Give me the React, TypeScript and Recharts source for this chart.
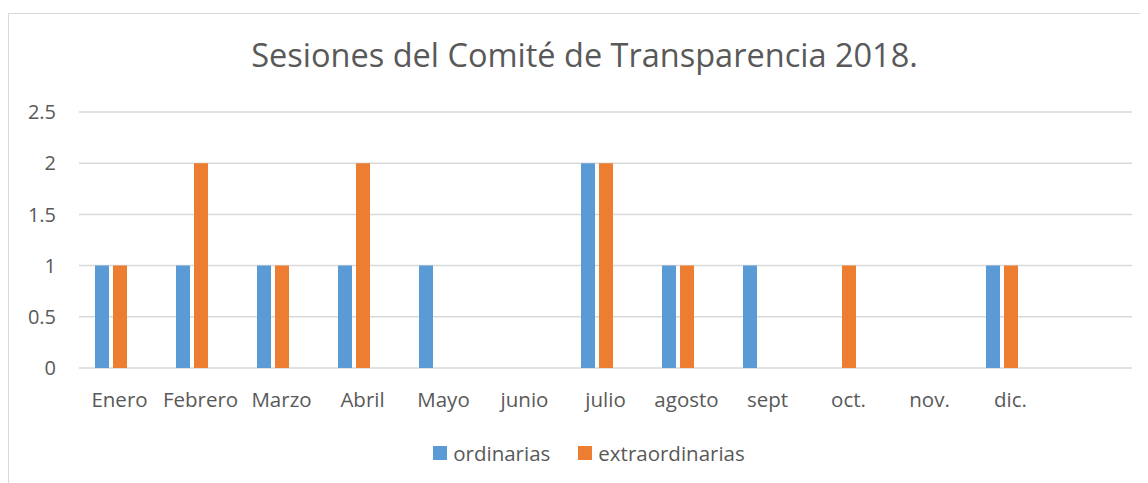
import { BarChart, Bar, XAxis, YAxis, CartesianGrid, Legend } from "recharts";

const months = ["Enero", "Febrero", "Marzo", "Abril", "Mayo", "junio", "julio", "agosto", "sept", "oct.", "nov.", "dic."];
const ordinarias = [1, 1, 1, 1, 1, 0, 2, 1, 1, 0, 0, 1];
const extraordinarias = [1, 2, 1, 2, 0, 0, 2, 1, 0, 1, 0, 1];
const seriesNames = ["ordinarias", "extraordinarias"];
const yTicks = [0, 0.5, 1, 1.5, 2, 2.5];

const data = months.map((m, i) => ({
  name: m,
  ordinarias: ordinarias[i],
  extraordinarias: extraordinarias[i],
}));

const FONT = "'Open Sans', sans-serif";
const TEXT = "#595959";

function LegendBox({ payload }: any) {
  const items = [...(payload || [])].sort(
    (a: any, b: any) => seriesNames.indexOf(a.value) - seriesNames.indexOf(b.value)
  );
  return (
    <div style={{ display: "flex", justifyContent: "center", gap: 28, fontFamily: FONT, fontSize: 20.5, color: TEXT }}>
      {items.map((p: any) => (
        <span key={p.value} style={{ display: "flex", alignItems: "center" }}>
          <span style={{ width: 14, height: 14, background: p.color, marginRight: 6, display: "inline-block" }} />
          {p.value}
        </span>
      ))}
    </div>
  );
}

export default function App() {
  return (
    <div style={{ paddingTop: 5 }}>
      <div style={{ position: "relative", borderLeft: "1px solid #D9D9D9", borderTop: "1px solid #D9D9D9", width: 1140, height: 470 }}>
        <div
          style={{
            position: "absolute",
            top: 20,
            left: 0,
            width: 1151,
            textAlign: "center",
            fontFamily: FONT,
            fontSize: 32.5,
            color: TEXT,
            lineHeight: "42px",
          }}
        >
          Sesiones del Comité de Transparencia 2018.
        </div>
        <BarChart
          width={1140}
          height={470}
          data={data}
          margin={{ top: 98, right: 17, bottom: 86, left: 0 }}
          barSize={14}
          barGap={4}
        >
          <CartesianGrid vertical={false} stroke="#D9D9D9" strokeWidth={1.5} />
          <XAxis
            dataKey="name"
            axisLine={false}
            tickLine={false}
            tickSize={0}
            tickMargin={24}
            padding={{ left: -9, right: 90 }}
            interval={0}
            tick={{ fill: TEXT, fontSize: 20.5, fontFamily: FONT, dx: 9 }}
          />
          <YAxis
            width={70}
            domain={[0, 2.5]}
            ticks={yTicks}
            axisLine={false}
            tickLine={false}
            tickSize={0}
            tickMargin={23}
            tick={{ fill: TEXT, fontSize: 20, fontFamily: FONT }}
          />
          <Legend
            verticalAlign="middle"
            align="center"
            wrapperStyle={{ top: 425, left: 0, width: 1160 }}
            content={LegendBox}
          />
          <Bar dataKey="ordinarias" fill="#5B9BD5" isAnimationActive={false} />
          <Bar dataKey="extraordinarias" fill="#ED7D31" isAnimationActive={false} />
        </BarChart>
      </div>
    </div>
  );
}
